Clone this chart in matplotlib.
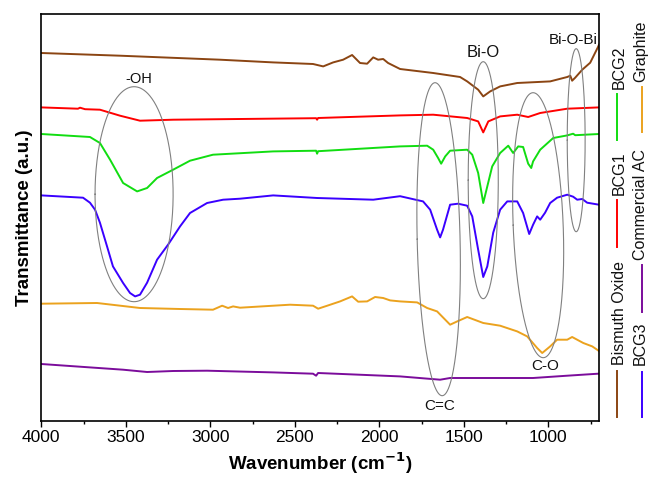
import numpy as np
import matplotlib
matplotlib.use("Agg")
import matplotlib.pyplot as plt
from matplotlib.lines import Line2D

plt.rcParams['font.family'] = ['Liberation Sans', 'DejaVu Sans']

# ---------------- data (wavenumber cm^-1, transmittance a.u.) ----------------
bi2o3_wn = [4000, 3534, 2942, 2628, 2392, 2332, 2273, 2214, 2161, 2114, 2072, 2036, 2007, 1977,
            1948, 1877, 1681, 1522, 1480, 1415, 1385, 1344, 1285, 1184, 989, 888, 870, 859, 841,
            799, 752, 705, 700]
bi2o3_t = [367.7, 365, 361, 358.3, 356.7, 354.3, 358.3, 361, 365.7, 357.7, 357, 363.3, 361, 361.7,
           357.7, 351.7, 347.7, 343.7, 339.3, 331, 324.3, 329.3, 334.3, 337.7, 339.3, 343.7, 345, 340,
           343, 351, 358, 374, 376]

bcg1_wn = [4000, 3783, 3771, 3741, 3653, 3534, 3416, 3220, 2374, 2368, 2362, 1877, 1681, 1480,
           1415, 1385, 1355, 1285, 1184, 1119, 1048, 888, 700]
bcg1_t = [313.3, 312, 313, 311.5, 311, 305, 300, 301, 302.5, 301, 302.7, 305.3, 306, 302.7,
          299.3, 288.3, 299.3, 304.3, 306, 303.7, 307.7, 312, 313.3]

bcg2_wn = [4000, 3712, 3653, 3593, 3516, 3433, 3374, 3315, 3220, 3120, 2984, 2628, 2374, 2368,
           2362, 1877, 1717, 1681, 1652, 1634, 1610, 1581, 1480, 1450, 1415, 1385, 1361, 1332,
           1285, 1237, 1208, 1178, 1149, 1119, 1101, 1090, 1048, 971, 888, 853, 841, 700]
bcg2_t = [286.7, 283.7, 277.7, 261, 237.7, 229.3, 232.7, 242.7, 251, 260, 266, 269.3, 270, 267,
          269.5, 274.3, 275, 271, 262.7, 257, 264.3, 270, 271, 266, 247.7, 217.7, 234.3, 254.3,
          267.7, 275, 267.7, 274.3, 273.7, 257, 252.7, 259.3, 271, 282.7, 285.3, 287, 285.5, 286.7]

bcg3_wn = [4000, 3753, 3712, 3682, 3653, 3611, 3576, 3516, 3475, 3445, 3416, 3374, 3315, 3250,
           3179, 3120, 3019, 2924, 2824, 2628, 2368, 2036, 1877, 1741, 1699, 1658, 1640, 1623,
           1581, 1534, 1480, 1450, 1415, 1385, 1361, 1326, 1285, 1243, 1184, 1149, 1113, 1090,
           1066, 1048, 1019, 989, 948, 888, 853, 829, 799, 770, 700]
bcg3_t = [225.3, 223, 218, 211, 198, 174.3, 154.3, 137.7, 127.7, 124.3, 126, 138, 161, 176,
          194.3, 207.7, 217.7, 221, 222, 225.3, 222.7, 221, 224.5, 219.3, 211, 191, 183.3, 191,
          216, 217, 215, 204.3, 171, 143.7, 154.3, 188, 211, 219.3, 219.3, 207.7, 186.7, 196,
          204.3, 201, 208, 217.7, 223, 226, 224, 221, 221.7, 218, 216]

graphite_wn = [4000, 3670, 3416, 3179, 2984, 2930, 2895, 2865, 2824, 2528, 2392, 2362, 2308, 2232,
               2161, 2125, 2072, 2025, 1977, 1936, 1877, 1776, 1717, 1658, 1581, 1539, 1480, 1385,
               1285, 1184, 1125, 1066, 1036, 989, 948, 888, 859, 793, 740, 705, 700]
graphite_t = [117, 117.7, 112.7, 111.7, 111, 115, 112.7, 114.3, 113, 116, 115, 112, 115, 119.3,
              124.3, 119, 119.3, 123.7, 122.7, 120.3, 119.3, 118.3, 112.7, 109.3, 96, 99.3, 103.7,
              97.7, 95, 89.3, 84.3, 72.7, 67.7, 74.3, 81, 81, 83.7, 77.7, 74.3, 70.3, 69.5]

ac_wn = [4000, 3712, 3516, 3374, 3220, 3019, 2628, 2392, 2374, 2362, 1877, 1640, 1581, 1285,
         1090, 888, 705, 700]
ac_t = [56.7, 53.3, 51, 48.7, 49.7, 50, 48.3, 47, 45, 47.7, 44.3, 41, 42.7, 42.7,
        42.7, 45, 47, 47]

series_names = ["Bismuth Oxide", "BCG1", "BCG2", "BCG3", "Graphite", "Commercial AC"]
series_colors = ["#8B4513", "#FF0000", "#11DD11", "#3A00FF", "#EBA21E", "#7B0C9B"]

# band annotations: label, centre wn, centre T, half-width (wn), half-height, shear (wn)
band_labels = ["-OH", "C=C", "Bi-O", "C-O", "Bi-O-Bi"]
band_cx = [3451, 1649, 1385, 1060, 835]
band_cy = [226.5, 181.5, 240.5, 195.5, 280.5]
band_a = [231, 127, 89, 148, 53]
band_b = [107.5, 156.5, 118.5, 132.5, 91.5]
band_shear = [0, 21, 0, 30, 0]
label_x = [3422, 1640, 1385, 1020, 852]
label_y = [342, 14.5, 368.3, 55, 381]
label_size = [10.5, 11, 12, 11, 11]

xticks = [4000, 3500, 3000, 2500, 2000, 1500, 1000]

# ---------------- figure ----------------
W, H = 649, 482
fig = plt.figure(figsize=(W / 100, H / 100), dpi=100)
ax = fig.add_axes([41.3 / W, 1 - 420.7 / H, (599 - 41.3) / W, (420.7 - 14) / H])

data = [(bi2o3_wn, bi2o3_t), (bcg1_wn, bcg1_t), (bcg2_wn, bcg2_t),
        (bcg3_wn, bcg3_t), (graphite_wn, graphite_t), (ac_wn, ac_t)]
for (wn, t), c in zip(data, series_colors):
    ax.plot(wn, t, color=c, lw=1.4, solid_joinstyle='round')

tt = np.linspace(0, 2 * np.pi, 400)
for cx, cy, a, b, s in zip(band_cx, band_cy, band_a, band_b, band_shear):
    ax.plot(cx + a * np.cos(tt) + s * np.sin(tt), cy + b * np.sin(tt),
            color="#808080", lw=0.8)
for lab, x, y, fs in zip(band_labels, label_x, label_y, label_size):
    ax.text(x, y, lab, ha='center', va='center', fontsize=fs, color='#111111')

ax.set_xlim(4000, 700)
ax.set_ylim(0, 406.7)
ax.set_xticks(xticks)
ax.set_xticks(np.arange(750, 4000, 250), minor=True)
ax.set_yticks([])
ax.tick_params(axis='x', which='major', length=4, width=1, labelsize=12.5, pad=3)
ax.tick_params(axis='x', which='minor', length=2.5, width=1)
for sp in ax.spines.values():
    sp.set_linewidth(1.2)
ax.set_xlabel("Wavenumber (cm$^{\\mathbf{-1}}$)", fontsize=13.5, fontweight='bold', labelpad=4)
ax.set_ylabel("Transmittance (a.u.)", fontsize=13.5, fontweight='bold', labelpad=6)

# ---------------- rotated legend (right side) ----------------
leg_col_x = [617, 617, 617, 642, 642, 642]
leg_order = ["Bismuth Oxide", "BCG1", "BCG2", "BCG3", "Commercial AC", "Graphite"]
leg_line_y = [(417, 371), (247, 200), (140, 94), (417, 372), (312, 265), (132, 87)]
leg_text_y = [365, 195, 89, 365, 260, 82]
leg_text_x = [627, 627, 627, 648, 648, 648]
for name, x, (y0, y1), ty, tx in zip(leg_order, leg_col_x, leg_line_y, leg_text_y, leg_text_x):
    c = series_colors[series_names.index(name)]
    fig.add_artist(Line2D([x / W, x / W], [1 - y0 / H, 1 - y1 / H],
                          transform=fig.transFigure, color=c, lw=1.4))
    fig.text(tx / W, 1 - ty / H, name, rotation=90, ha='right', va='bottom',
             fontsize=11.5, color='#111111')

fig.savefig("out.png", dpi=100)
